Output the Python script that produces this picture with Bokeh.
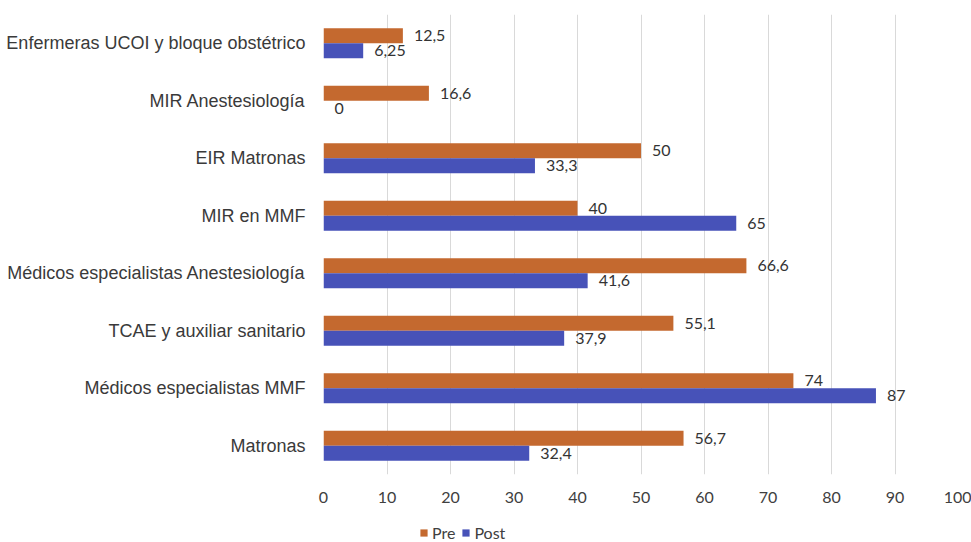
from bokeh.plotting import figure
from bokeh.layouts import column
from bokeh.models import ColumnDataSource, FactorRange, LabelSet, Legend, LegendItem, Range1d, FixedTicker
from bokeh.transform import dodge
from bokeh.embed import file_html
from bokeh.resources import INLINE
from bokeh.core.properties import value

categories = [
    "Matronas",
    "Médicos especialistas MMF",
    "TCAE y auxiliar sanitario",
    "Médicos especialistas Anestesiología",
    "MIR en MMF",
    "EIR Matronas",
    "MIR Anestesiología",
    "Enfermeras UCOI y bloque obstétrico",
]
pre = [56.7, 74, 55.1, 66.6, 40, 50, 16.6, 12.5]
post = [32.4, 87, 37.9, 41.6, 65, 33.3, 0, 6.25]
pre_labels = ["56,7", "74", "55,1", "66,6", "40", "50", "16,6", "12,5"]
post_labels = ["32,4", "87", "37,9", "41,6", "65", "33,3", "0", "6,25"]
x_ticks = [0, 10, 20, 30, 40, 50, 60, 70, 80, 90, 100]
series_names = ["Pre", "Post"]

ORANGE = "#C4692F"
BLUE = "#4752B8"

src = ColumnDataSource(dict(cat=categories, pre=pre, post=post,
                            pre_lbl=pre_labels, post_lbl=post_labels))

p = figure(width=971, height=516, output_backend="svg", toolbar_location=None,
           y_range=FactorRange(*categories, range_padding=0),
           x_range=Range1d(0, 100),
           min_border_left=323, min_border_right=13,
           min_border_top=14, min_border_bottom=42)
p.outline_line_color = None
p.background_fill_color = "white"

p.hbar(y=dodge("cat", 0.13, range=p.y_range), right="pre", left=0, height=0.26,
       source=src, fill_color=ORANGE, line_color=None)
p.hbar(y=dodge("cat", -0.13, range=p.y_range), right="post", left=0, height=0.26,
       source=src, fill_color=BLUE, line_color=None)

common = dict(text_font=value("Lato"), text_font_size="16px", text_color="#333333",
              text_align="left", text_baseline="middle", x_offset=11)
p.add_layout(LabelSet(x="pre", y=dodge("cat", 0.13, range=p.y_range), text="pre_lbl",
                      source=src, **common))
p.add_layout(LabelSet(x="post", y=dodge("cat", -0.13, range=p.y_range), text="post_lbl",
                      source=src, **common))

p.xaxis.ticker = FixedTicker(ticks=x_ticks)
p.xaxis.axis_line_color = None
p.xaxis.major_tick_line_color = None
p.xaxis.minor_tick_line_color = None
p.xaxis.major_label_standoff = 11
p.xaxis.major_label_text_font = "Lato"
p.xaxis.major_label_text_font_size = "16px"
p.xaxis.major_label_text_color = "#404040"

p.yaxis.axis_line_color = None
p.yaxis.major_tick_line_color = None
p.yaxis.minor_tick_line_color = None
p.yaxis.major_label_standoff = 12
p.yaxis.major_label_text_font = "Liberation Sans"
p.yaxis.major_label_text_font_size = "18px"
p.yaxis.major_label_text_color = "#3a3a3a"

p.ygrid.grid_line_color = None
p.xgrid.grid_line_color = "#d9d9d9"
p.xgrid.grid_line_width = 1

# legend strip below the chart (its renderers are hidden; only the legend shows)
lg = figure(width=971, height=26, output_backend="svg", toolbar_location=None,
            x_range=Range1d(1000, 1100), y_range=FactorRange(*categories),
            min_border=0)
lg.axis.visible = False
lg.grid.visible = False
lg.outline_line_color = None
r1 = lg.hbar(y="cat", right="pre", left=0, height=0.3, source=src,
             fill_color=ORANGE, line_color=None, visible=False)
r2 = lg.hbar(y="cat", right="post", left=0, height=0.3, source=src,
             fill_color=BLUE, line_color=None, visible=False)
legend = Legend(items=[LegendItem(label=series_names[0], renderers=[r1]),
                       LegendItem(label=series_names[1], renderers=[r2])],
                orientation="horizontal", location=(96, 0),
                padding=0, margin=0, spacing=6, label_standoff=4,
                glyph_width=9, glyph_height=9, label_height=16,
                label_text_font="Lato", label_text_font_size="16px",
                label_text_color="#404040", inactive_fill_alpha=0,
                border_line_color=None, background_fill_alpha=0)
lg.add_layout(legend, "center")

layout = column(p, lg, spacing=0)
open("out.html", "w").write(file_html(layout, INLINE))
